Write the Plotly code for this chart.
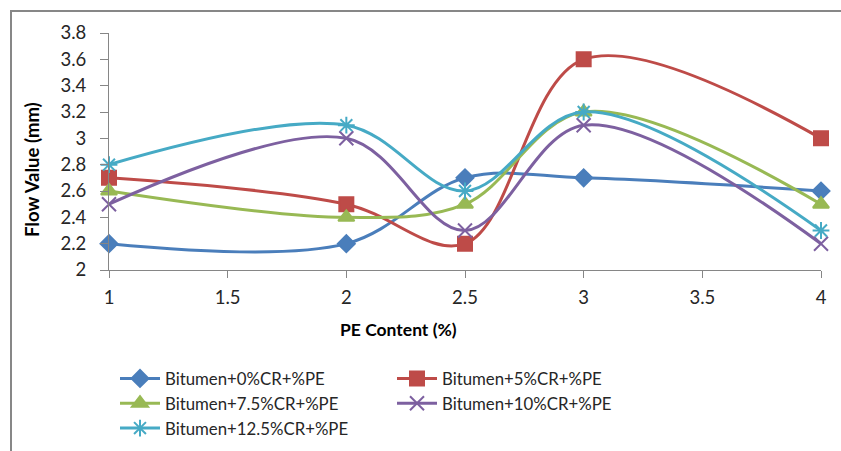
import plotly.graph_objects as go

pe_content = [1, 2, 2.5, 3, 4]
series_names = [
    "Bitumen+0%CR+%PE",
    "Bitumen+5%CR+%PE",
    "Bitumen+7.5%CR+%PE",
    "Bitumen+10%CR+%PE",
    "Bitumen+12.5%CR+%PE",
]
cr0 = [2.2, 2.2, 2.7, 2.7, 2.6]
cr5 = [2.7, 2.5, 2.2, 3.6, 3.0]
cr75 = [2.6, 2.4, 2.5, 3.2, 2.5]
cr10 = [2.5, 3.0, 2.3, 3.1, 2.2]
cr125 = [2.8, 3.1, 2.6, 3.2, 2.3]
values = [cr0, cr5, cr75, cr10, cr125]

colors = ["#4a7ebb", "#be4b48", "#98b954", "#7d60a0", "#46aac5"]
symbols = ["diamond", "square", "triangle-up", "x-thin-open", "asterisk-open"]
sizes = [13, 14, 14, 14, 14]

FONT = "Lato"
fig = go.Figure()
for name, ys, c, s, sz in zip(series_names, values, colors, symbols, sizes):
    fig.add_trace(go.Scatter(
        x=pe_content, y=ys, name=name, mode="lines+markers",
        line=dict(color=c, width=3, shape="spline", smoothing=1.0),
        marker=dict(symbol=s, size=sz, color=c, line=dict(color=c, width=2)),
        cliponaxis=False,
    ))

L, R, T, B = 109, 20, 33, 181
W, H = 841, 451
pw, ph = W - L - R, H - T - B

def px_x(p):
    return (p - L) / pw

def px_y(p):
    return 1 - (p - T) / ph

fig.update_layout(
    width=W, height=H,
    margin=dict(l=L, r=R, t=T, b=B, autoexpand=False),
    paper_bgcolor="white", plot_bgcolor="white",
    font=dict(family=FONT, size=17, color="#262626"),
    showlegend=True,
    legend=dict(
        orientation="h", x=px_x(115), y=px_y(361), xanchor="left", yanchor="top",
        entrywidth=222, entrywidthmode="pixels",
        font=dict(family=FONT, size=16.8, color="#262626"),
        itemwidth=40, tracegroupgap=0,
    ),
    xaxis=dict(
        range=[1, 4], tickvals=[1, 1.5, 2, 2.5, 3, 3.5, 4],
        ticktext=["1", "1.5", "2", "2.5", "3", "3.5", "4"],
        showgrid=False, zeroline=False, showline=True, linecolor="#868686", linewidth=1,
        ticks="outside", ticklen=7, tickcolor="#868686",
        tickfont=dict(family=FONT, size=18.5, color="#262626"),
        ticklabelstandoff=4,
    ),
    yaxis=dict(
        range=[2, 3.8], tickvals=[2, 2.2, 2.4, 2.6, 2.8, 3, 3.2, 3.4, 3.6, 3.8],
        ticktext=["2", "2.2", "2.4", "2.6", "2.8", "3", "3.2", "3.4", "3.6", "3.8"],
        showgrid=False, zeroline=False, showline=True, linecolor="#868686", linewidth=1,
        ticks="outside", ticklen=8, tickcolor="#868686",
        tickfont=dict(family=FONT, size=18.5, color="#262626"),
        ticklabelstandoff=10,
    ),
    annotations=[
        dict(text="<b>PE Content (%)</b>", xref="paper", yref="paper",
             x=px_x(398), y=px_y(329), xanchor="center", yanchor="middle", showarrow=False,
             font=dict(family=FONT, size=17.5, color="#000000")),
        dict(text="<b>Flow Value (mm)</b>", xref="paper", yref="paper",
             x=px_x(32), y=px_y(170), xanchor="center", yanchor="middle", showarrow=False, textangle=-90,
             font=dict(family=FONT, size=18.5, color="#000000")),
    ],
    shapes=[
        dict(type="rect", xref="paper", yref="paper",
             x0=px_x(11), y0=px_y(470), x1=px_x(870), y1=px_y(11),
             line=dict(color="#878787", width=2), layer="below"),
    ],
)

fig.write_html("out.html")
